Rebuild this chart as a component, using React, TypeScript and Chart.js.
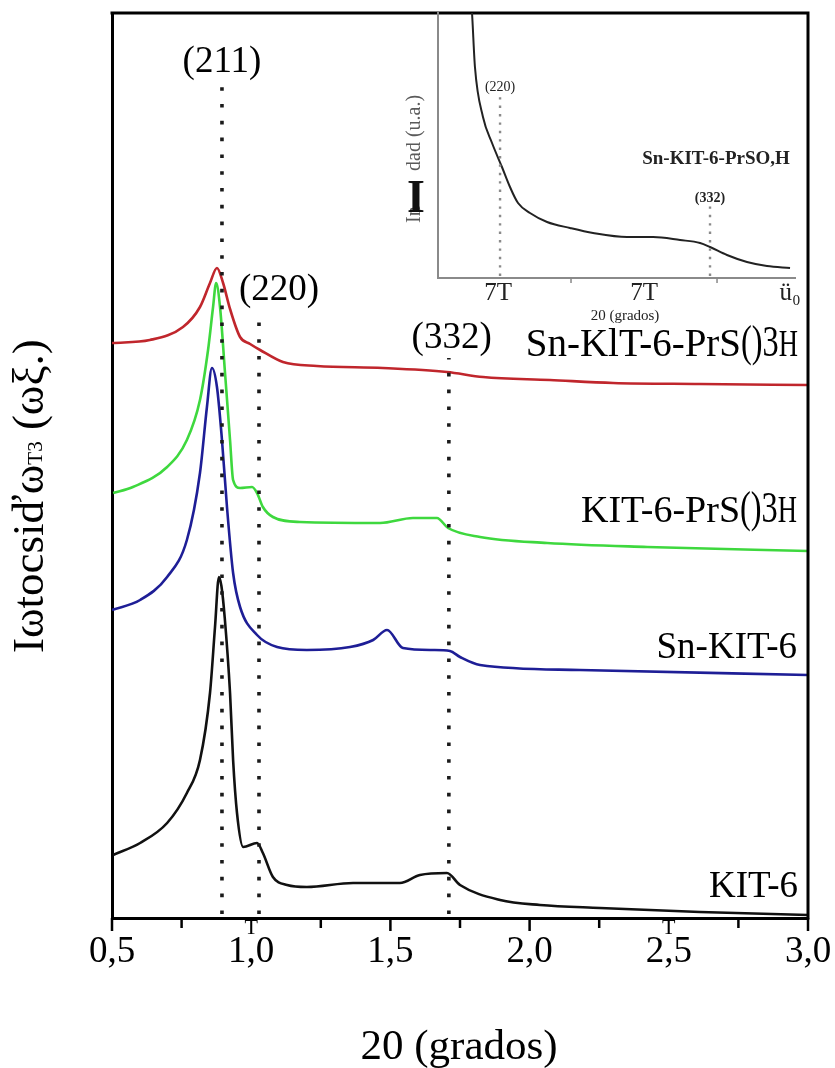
import { useEffect, useRef } from "react";
import { Chart, registerables } from "chart.js";

Chart.register(...registerables);

const SERIF = "'Liberation Serif', 'Times New Roman', Times, serif";
const W = 835;
const H = 1068;

// ---------- main pattern: 2θ (degrees) vs. intensity (a.u., stacked) ----------
const xMajorTicks = [0.5, 1.0, 1.5, 2.0, 2.5, 3.0];
const xTickLabels = ["0,5", "1,0", "1,5", "2,0", "2,5", "3,0"];
const xMinorTicks = [0.75, 1.25, 1.75, 2.25, 2.75];

const snKit6PrSO3H_2theta = [0.5, 0.636, 0.755, 0.816, 0.852, 0.877, 0.899, 0.924, 0.96, 0.996, 1.032, 1.114, 1.236, 1.473, 1.703, 1.833, 2.073, 2.3, 2.612, 3.0];
const snKit6PrSO3H_int = [575, 578, 591, 611, 635, 650, 635, 609, 581, 574, 568, 556, 552, 550, 546, 541, 538, 535, 534, 533];

const kit6PrSO3H_2theta = [0.504, 0.575, 0.698, 0.769, 0.816, 0.845, 0.863, 0.874, 0.888, 0.906, 0.924, 0.935, 0.96, 1.003, 1.021, 1.042, 1.078, 1.175, 1.463, 1.581, 1.667, 1.707, 1.822, 2.063, 2.422, 3.0];
const kit6PrSO3H_int = [425, 431, 451, 478, 518, 568, 611, 635, 611, 545, 478, 438, 430, 431, 425, 411, 401, 396, 395, 400, 400, 390, 381, 375, 371, 367];

const snKit6_2theta = [0.5, 0.601, 0.698, 0.769, 0.816, 0.841, 0.859, 0.877, 0.895, 0.913, 0.935, 0.96, 1.021, 1.093, 1.2, 1.355, 1.438, 1.488, 1.545, 1.653, 1.714, 1.75, 1.822, 2.181, 3.0];
const snKit6_int = [308, 318, 341, 378, 445, 511, 550, 531, 478, 411, 345, 311, 283, 271, 268, 271, 278, 288, 270, 268, 267, 261, 253, 248, 243];

const kit6_2theta = [0.504, 0.601, 0.698, 0.769, 0.816, 0.852, 0.87, 0.884, 0.893, 0.905, 0.924, 0.935, 0.949, 0.971, 1.021, 1.042, 1.078, 1.129, 1.2, 1.366, 1.534, 1.606, 1.703, 1.75, 1.894, 2.037, 2.253, 2.612, 3.0];
const kit6_int = [63, 75, 95, 125, 158, 225, 291, 341, 332, 300, 225, 158, 105, 71, 75, 65, 41, 33, 31, 35, 35, 43, 45, 33, 18, 13, 10, 6, 3];

const reflectionLabels = ["(211)", "(220)", "(332)"];
const reflection2theta = [0.895, 1.028, 1.71];

// ---------- inset: Sn-KIT-6-PrSO3H ----------
const insetTicks = [1, 2, 3];
const insetTickLabels = ["7T", "7T", "ü₀"];
const insetMinorTicks = [1.5, 2.5];
const inset2theta = [0.815, 0.822, 0.842, 0.897, 0.959, 1.027, 1.082, 1.137, 1.219, 1.336, 1.493, 1.651, 1.884, 2.062, 2.247, 2.384, 2.452, 2.568, 2.705, 2.842, 3.0];
const insetInt = [278, 265, 211, 161, 135, 111, 91, 75, 65, 56, 50, 45, 41, 41, 38, 35, 31, 23, 16, 12, 10];
const insetReflectionLabels = ["(220)", "(332)"];
const insetReflection2theta = [1.014, 2.452];

const toPoints = (xs: number[], ys: number[]) => xs.map((x, i) => ({ x, y: ys[i] }));

type Seg = { t: string; size: number; sx?: number; bold?: boolean };

function drawSegs(ctx: CanvasRenderingContext2D, segs: Seg[], right: number, baseline: number) {
  const widths = segs.map((s) => {
    ctx.font = `${s.bold ? "bold " : ""}${s.size}px ${SERIF}`;
    return ctx.measureText(s.t).width * (s.sx ?? 1);
  });
  let x = right - widths.reduce((a, b) => a + b, 0);
  segs.forEach((s, i) => {
    ctx.save();
    ctx.font = `${s.bold ? "bold " : ""}${s.size}px ${SERIF}`;
    ctx.textAlign = "left";
    ctx.textBaseline = "alphabetic";
    ctx.translate(x, baseline);
    ctx.scale(s.sx ?? 1, 1);
    ctx.fillText(s.t, 0, 0);
    ctx.restore();
    x += widths[i];
  });
}

const mainDecor = {
  id: "mainDecor",
  afterDraw(chart: any) {
    const { ctx, chartArea: a } = chart;
    const xs = chart.scales.x;
    const ys = chart.scales.y;
    ctx.save();
    ctx.fillStyle = "#000";
    ctx.strokeStyle = "#000";

    // frame: top and right edges
    ctx.lineWidth = 3;
    ctx.setLineDash([]);
    ctx.beginPath();
    ctx.moveTo(a.left - 1.5, a.top);
    ctx.lineTo(a.right, a.top);
    ctx.lineTo(a.right, a.bottom + 1.5);
    ctx.stroke();

    // tick marks below the 2θ axis
    ctx.lineWidth = 2.5;
    xMajorTicks.forEach((v) => {
      if (v === 1.0 || v === 2.5) return;
      const px = xs.getPixelForValue(v);
      ctx.beginPath();
      ctx.moveTo(px, a.bottom);
      ctx.lineTo(px, a.bottom + 13);
      ctx.stroke();
    });
    xMinorTicks.forEach((v) => {
      const px = xs.getPixelForValue(v);
      ctx.beginPath();
      ctx.moveTo(px, a.bottom + 2);
      ctx.lineTo(px, a.bottom + 10);
      ctx.stroke();
    });
    ctx.font = `22px ${SERIF}`;
    ctx.textAlign = "center";
    ctx.textBaseline = "top";
    [1.0, 2.5].forEach((v) => ctx.fillText("T", xs.getPixelForValue(v), a.bottom - 1));

    // dotted guides for the reflections
    const guideTop = [831, 606, 560];
    ctx.strokeStyle = "#1a1a1a";
    ctx.lineWidth = 3.6;
    ctx.setLineDash([3.6, 13.2]);
    reflection2theta.forEach((v, i) => {
      const px = xs.getPixelForValue(v);
      ctx.beginPath();
      ctx.moveTo(px, a.bottom - 4);
      ctx.lineTo(px, ys.getPixelForValue(guideTop[i]));
      ctx.stroke();
    });
    ctx.setLineDash([]);

    // reflection labels
    ctx.font = `37px ${SERIF}`;
    ctx.textAlign = "center";
    ctx.textBaseline = "alphabetic";
    const labelAt = [
      [0.895, 846],
      [1.1, 618],
      [1.72, 570],
    ];
    reflectionLabels.forEach((t, i) => {
      ctx.fillText(t, xs.getPixelForValue(labelAt[i][0]), ys.getPixelForValue(labelAt[i][1]));
    });

    // curve names
    drawSegs(ctx, [{ t: "Sn-KlT-6-PrS", size: 39 }, { t: "()3", size: 45, sx: 0.72 }, { t: "H", size: 38, sx: 0.7 }], 798, 356);
    drawSegs(ctx, [{ t: "KIT-6-PrS", size: 38 }, { t: "()3", size: 45, sx: 0.72 }, { t: "H", size: 38, sx: 0.7 }], 797, 522);
    drawSegs(ctx, [{ t: "Sn-KIT-6", size: 37 }], 797, 658);
    drawSegs(ctx, [{ t: "KIT-6", size: 37 }], 798, 897);

    // axis titles
    ctx.font = `43px ${SERIF}`;
    ctx.textAlign = "center";
    ctx.textBaseline = "alphabetic";
    ctx.fillText("20 (grados)", (a.left + a.right) / 2 - 1, 1059);

    ctx.translate(43, 653);
    ctx.rotate(-Math.PI / 2);
    ctx.textAlign = "left";
    let cx = 0;
    ctx.font = `45px ${SERIF}`;
    ctx.fillText("Iωtocsiďω", cx, 0);
    cx += ctx.measureText("Iωtocsiďω").width;
    ctx.font = `21px ${SERIF}`;
    ctx.fillText("T3", cx, -1);
    cx += ctx.measureText("T3").width;
    ctx.font = `45px ${SERIF}`;
    ctx.fillText(" (ωξ.)", cx, 0);
    ctx.restore();
  },
};

const insetDecor = {
  id: "insetDecor",
  afterDraw(chart: any) {
    const { ctx, chartArea: a } = chart;
    const xs = chart.scales.x;
    const ys = chart.scales.y;
    ctx.save();

    // minor ticks
    ctx.strokeStyle = "#888";
    ctx.lineWidth = 1.5;
    insetMinorTicks.forEach((v) => {
      const px = xs.getPixelForValue(v);
      ctx.beginPath();
      ctx.moveTo(px, a.bottom);
      ctx.lineTo(px, a.bottom + 5);
      ctx.stroke();
    });

    // dotted guides
    const guideTop = [183, 73];
    ctx.strokeStyle = "#8a8a8a";
    ctx.lineWidth = 2.4;
    ctx.setLineDash([2.4, 6]);
    insetReflection2theta.forEach((v, i) => {
      const px = xs.getPixelForValue(v);
      ctx.beginPath();
      ctx.moveTo(px, a.bottom - 2);
      ctx.lineTo(px, ys.getPixelForValue(guideTop[i]));
      ctx.stroke();
    });
    ctx.setLineDash([]);

    ctx.fillStyle = "#222";
    ctx.textAlign = "center";
    ctx.textBaseline = "alphabetic";
    ctx.font = `14px ${SERIF}`;
    ctx.fillText(insetReflectionLabels[0], xs.getPixelForValue(insetReflection2theta[0]), 91);
    ctx.font = `bold 14px ${SERIF}`;
    ctx.fillText(insetReflectionLabels[1], xs.getPixelForValue(insetReflection2theta[1]), 202);
    ctx.font = `bold 19px ${SERIF}`;
    ctx.fillText("Sn-KIT-6-PrSO,H", 716, 164);

    // x title
    ctx.font = `15px ${SERIF}`;
    ctx.fillText("20 (grados)", 625, 320);

    // y title
    ctx.fillStyle = "#5a5a5a";
    ctx.save();
    ctx.translate(420, 223);
    ctx.rotate(-Math.PI / 2);
    ctx.textAlign = "left";
    ctx.font = `20px ${SERIF}`;
    ctx.fillText("In", 0, 0);
    ctx.fillText("dad (u.a.)", 52, 0);
    ctx.restore();
    ctx.fillStyle = "#111";
    ctx.font = `bold 46px ${SERIF}`;
    ctx.textAlign = "center";
    ctx.fillText("I", 416, 212);
    ctx.restore();
  },
};

export default function App() {
  const mainRef = useRef<HTMLCanvasElement | null>(null);
  const insetRef = useRef<HTMLCanvasElement | null>(null);

  useEffect(() => {
    if (!mainRef.current || !insetRef.current) return;

    const lineStyle = (color: string) => ({
      borderColor: color,
      backgroundColor: color,
      borderWidth: 2.6,
      pointRadius: 0,
      fill: false,
      cubicInterpolationMode: "monotone" as const,
    });

    const main = new Chart(mainRef.current, {
      type: "line",
      data: {
        datasets: [
          { label: "Sn-KIT-6-PrSO3H", data: toPoints(snKit6PrSO3H_2theta, snKit6PrSO3H_int), ...lineStyle("#c0262c") },
          { label: "KIT-6-PrSO3H", data: toPoints(kit6PrSO3H_2theta, kit6PrSO3H_int), ...lineStyle("#3ed83e") },
          { label: "Sn-KIT-6", data: toPoints(snKit6_2theta, snKit6_int), ...lineStyle("#1e1e96") },
          { label: "KIT-6", data: toPoints(kit6_2theta, kit6_int), ...lineStyle("#111111") },
        ],
      },
      options: {
        animation: false,
        responsive: false,
        events: [],
        layout: { padding: { top: 13, right: 27, left: 0, bottom: 0 } },
        plugins: { legend: { display: false }, tooltip: { enabled: false } },
        scales: {
          x: {
            type: "linear",
            min: 0.5,
            max: 3.0,
            afterFit: (s: any) => {
              s.height = H - 918;
              s.paddingLeft = 0;
              s.paddingRight = 0;
            },
            afterBuildTicks: (s: any) => {
              s.ticks = xMajorTicks.map((value) => ({ value }));
            },
            ticks: {
              callback: (_v: any, i: number) => xTickLabels[i],
              font: { family: SERIF, size: 37 },
              color: "#000",
              padding: 12,
              maxRotation: 0,
              autoSkip: false,
            },
            grid: { display: false, drawTicks: false },
            border: { display: true, color: "#000", width: 3 },
          },
          y: {
            type: "linear",
            min: 0,
            max: 905,
            afterFit: (s: any) => {
              s.width = 112;
            },
            ticks: { display: false },
            grid: { display: false, drawTicks: false },
            border: { display: true, color: "#000", width: 3 },
          },
        },
      },
      plugins: [mainDecor],
    });

    const inset = new Chart(insetRef.current, {
      type: "line",
      data: {
        datasets: [
          {
            label: "Sn-KIT-6-PrSO3H",
            data: toPoints(inset2theta, insetInt),
            borderColor: "#222",
            borderWidth: 2,
            pointRadius: 0,
            fill: false,
            cubicInterpolationMode: "monotone",
          },
        ],
      },
      options: {
        animation: false,
        responsive: false,
        events: [],
        layout: { padding: { top: 13, right: W - 795, left: 0, bottom: 0 } },
        plugins: { legend: { display: false }, tooltip: { enabled: false } },
        scales: {
          x: {
            type: "linear",
            min: 0.589,
            max: 3.034,
            afterFit: (s: any) => {
              s.height = H - 278;
              s.paddingLeft = 0;
              s.paddingRight = 0;
            },
            afterBuildTicks: (s: any) => {
              s.ticks = insetTicks.map((value) => ({ value }));
            },
            ticks: {
              callback: (_v: any, i: number) => insetTickLabels[i],
              font: { family: SERIF, size: 25 },
              color: "#222",
              padding: 0,
              maxRotation: 0,
              autoSkip: false,
            },
            grid: { display: false, drawTicks: false },
            border: { display: true, color: "#8a8a8a", width: 2 },
          },
          y: {
            type: "linear",
            min: 0,
            max: 265,
            afterFit: (s: any) => {
              s.width = 438;
            },
            ticks: { display: false },
            grid: { display: false, drawTicks: false },
            border: { display: true, color: "#8a8a8a", width: 2 },
          },
        },
      },
      plugins: [insetDecor],
    });

    return () => {
      main.destroy();
      inset.destroy();
    };
  }, []);

  const canvasStyle: React.CSSProperties = { position: "absolute", left: 0, top: 0, width: W, height: H };
  return (
    <div>
      <canvas ref={mainRef} width={W} height={H} style={canvasStyle} />
      <canvas ref={insetRef} width={W} height={H} style={canvasStyle} />
    </div>
  );
}
